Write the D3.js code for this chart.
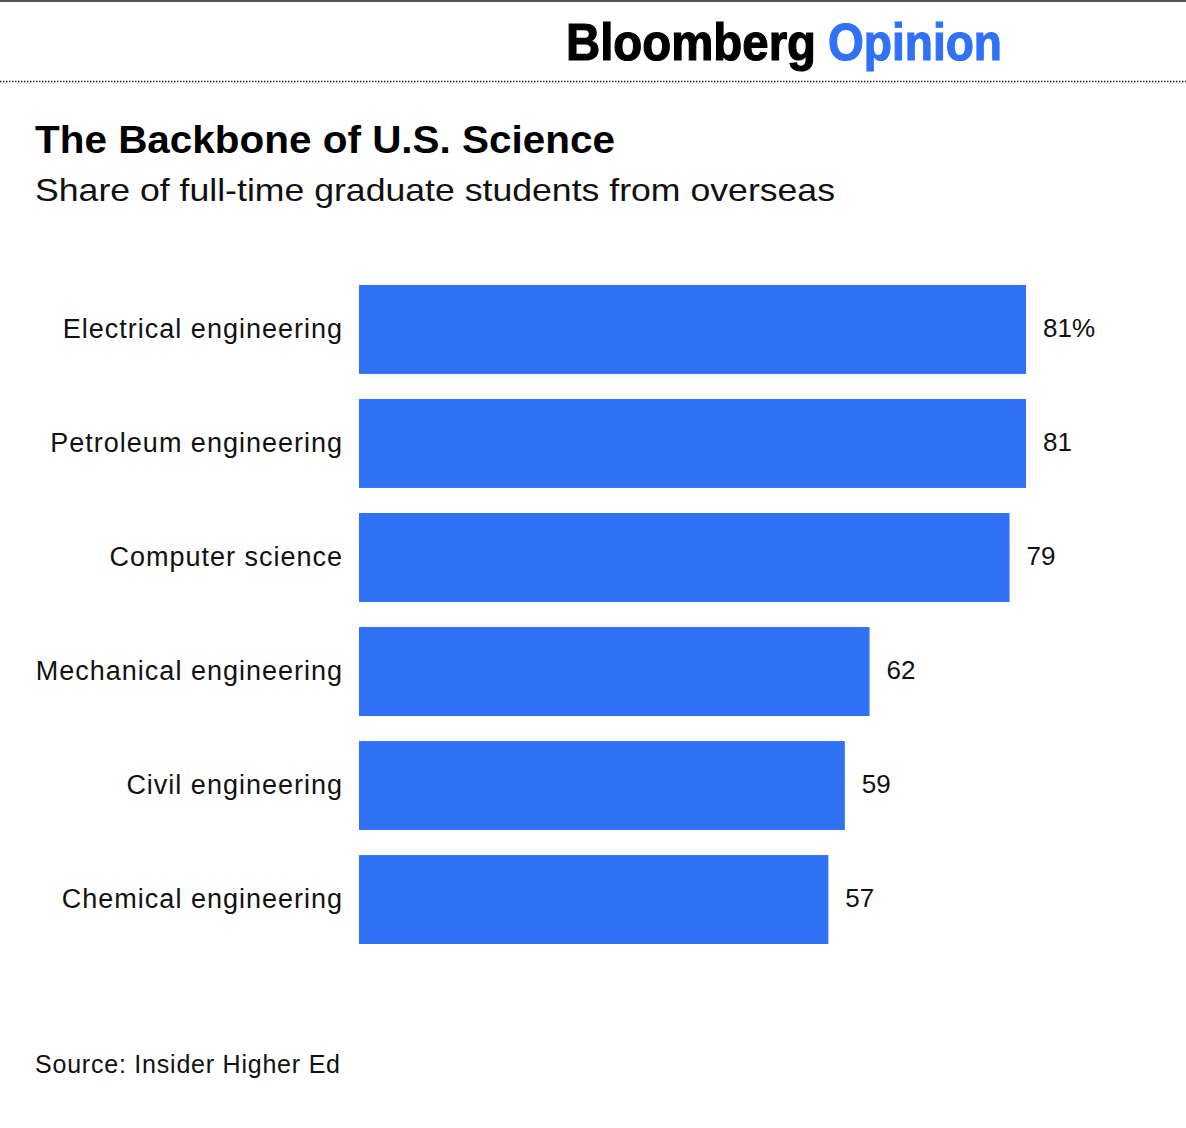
<!DOCTYPE html>
<html>
<head>
<meta charset="utf-8">
<script src="https://cdn.jsdelivr.net/npm/d3@7"></script>
<style>
  body { margin: 0; background: #fff; }
  svg text { font-family: "Liberation Sans", Arial, sans-serif; }
</style>
</head>
<body>
<div id="chart"></div>
<script>
var categories = ["Electrical engineering", "Petroleum engineering", "Computer science",
  "Mechanical engineering", "Civil engineering", "Chemical engineering"];
var shares = [81, 81, 79, 62, 59, 57];
var valueLabels = ["81%", "81", "79", "62", "59", "57"];

var svgWidth = 1186;
var svgHeight = 1128;
var blue = "#3171f5";

var svg = d3.select("#chart")
  .append("svg")
  .attr("width", svgWidth)
  .attr("height", svgHeight);

// top rule and logo
svg.append("rect")
  .attr("x", 0).attr("y", 0)
  .attr("width", svgWidth).attr("height", 2)
  .attr("fill", "#555");

svg.append("text")
  .attr("x", 566).attr("y", 60)
  .attr("font-size", 52)
  .attr("font-weight", "bold")
  .attr("textLength", 250)
  .attr("lengthAdjust", "spacingAndGlyphs")
  .attr("fill", "#000")
  .attr("stroke", "#000")
  .attr("stroke-width", 1.2)
  .text("Bloomberg");

svg.append("text")
  .attr("x", 828).attr("y", 60)
  .attr("font-size", 52)
  .attr("font-weight", "bold")
  .attr("textLength", 174)
  .attr("lengthAdjust", "spacingAndGlyphs")
  .attr("fill", blue)
  .attr("stroke", blue)
  .attr("stroke-width", 1.2)
  .text("Opinion");

svg.append("line")
  .attr("x1", 0).attr("x2", svgWidth)
  .attr("y1", 81.5).attr("y2", 81.5)
  .attr("stroke", "#222")
  .attr("stroke-width", 1.5)
  .attr("stroke-dasharray", "1.5,1.5");

// title block
svg.append("text")
  .attr("x", 35).attr("y", 153)
  .attr("font-size", 38)
  .attr("font-weight", "bold")
  .attr("textLength", 580)
  .attr("lengthAdjust", "spacingAndGlyphs")
  .attr("fill", "#000")
  .text("The Backbone of U.S. Science");

svg.append("text")
  .attr("x", 35).attr("y", 201)
  .attr("font-size", 32)
  .attr("textLength", 800)
  .attr("lengthAdjust", "spacingAndGlyphs")
  .attr("fill", "#111")
  .text("Share of full-time graduate students from overseas");

// scales
var x = d3.scaleLinear()
  .domain([0, 81])
  .range([359, 1026]);

var y = d3.scaleBand()
  .domain(categories)
  .range([285, 944])
  .paddingInner(0.22)
  .paddingOuter(0);

var rows = categories.map(function(c, i) {
  return {name: c, value: shares[i], label: valueLabels[i]};
});

svg.selectAll("rect.bar")
  .data(rows)
  .enter()
  .append("rect")
  .attr("class", "bar")
  .attr("x", x(0))
  .attr("y", d => y(d.name))
  .attr("width", d => x(d.value) - x(0))
  .attr("height", y.bandwidth())
  .attr("fill", blue);

// category labels
var yAxis = d3.axisLeft(y).tickSize(0).tickPadding(16);
var axisG = svg.append("g")
  .attr("transform", `translate(${x(0)},0)`)
  .call(yAxis);
axisG.select(".domain").remove();
axisG.selectAll("text")
  .attr("font-size", 27)
  .attr("letter-spacing", "1px")
  .attr("fill", "#111")
  .attr("dy", "0.3em")
  .style("font-family", "'Liberation Sans', Arial, sans-serif");

// value labels
svg.selectAll("text.val")
  .data(rows)
  .enter()
  .append("text")
  .attr("class", "val")
  .attr("x", d => x(d.value) + 17)
  .attr("y", d => y(d.name) + y.bandwidth() / 2 - 2)
  .attr("dy", "0.35em")
  .attr("font-size", 26)
  .attr("fill", "#111")
  .text(d => d.label);

svg.append("text")
  .attr("x", 35).attr("y", 1073)
  .attr("font-size", 25)
  .attr("textLength", 305)
  .attr("lengthAdjust", "spacing")
  .attr("fill", "#111")
  .text("Source: Insider Higher Ed");
</script>
</body>
</html>
